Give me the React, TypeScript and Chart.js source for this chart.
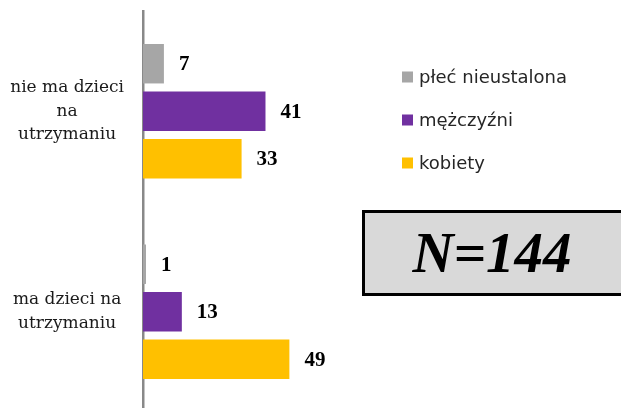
import React, { useEffect, useRef } from "react";
import { Chart, registerables } from "chart.js";

Chart.register(...registerables);

const categories = [["nie ma dzieci", "na", "utrzymaniu"], ["ma dzieci na", "utrzymaniu"]];
const seriesLabels = ["płeć nieustalona", "mężczyźni", "kobiety"];
const undetermined = [7, 1];
const men = [41, 13];
const women = [33, 49];
const seriesColors = ["#a6a6a6", "#7030a0", "#ffc000"];
const sampleLabel = "N=144";

const overlay = {
  id: "overlay",
  afterDatasetsDraw(chart: any) {
    const ctx = chart.ctx as CanvasRenderingContext2D;
    ctx.save();
    // value labels
    ctx.font = "bold 21px 'Liberation Serif'";
    ctx.fillStyle = "#000000";
    ctx.textBaseline = "middle";
    ctx.textAlign = "left";
    chart.data.datasets.forEach((ds: any, i: number) => {
      const meta = chart.getDatasetMeta(i);
      meta.data.forEach((bar: any, j: number) => {
        ctx.fillText(String(ds.data[j]), bar.x + 15, bar.y + 1);
      });
    });
    // legend
    ctx.font = "18px 'DejaVu Sans'";
    const legendY = [77, 120, 163];
    chart.data.datasets.forEach((ds: any, i: number) => {
      const y = legendY[i];
      ctx.fillStyle = ds.backgroundColor;
      ctx.fillRect(402, y - 5.5, 11, 11);
      ctx.fillStyle = "#262626";
      ctx.fillText(ds.label, 419, y + 1);
    });
    // N box
    ctx.fillStyle = "#d9d9d9";
    ctx.fillRect(363.5, 211.5, 300, 83);
    ctx.strokeStyle = "#000000";
    ctx.lineWidth = 3;
    ctx.strokeRect(363.5, 211.5, 300, 83);
    ctx.fillStyle = "#000000";
    ctx.font = "italic bold 57px 'Liberation Serif'";
    ctx.textAlign = "center";
    ctx.textBaseline = "alphabetic";
    ctx.fillText(sampleLabel, 492, 272);
    ctx.restore();
  },
};

export default function App() {
  const ref = useRef<HTMLCanvasElement | null>(null);
  useEffect(() => {
    if (!ref.current) return;
    const chart = new Chart(ref.current, {
      type: "bar",
      data: {
        labels: categories as any,
        datasets: [
          { label: seriesLabels[0], data: undetermined, backgroundColor: seriesColors[0] },
          { label: seriesLabels[1], data: men, backgroundColor: seriesColors[1] },
          { label: seriesLabels[2], data: women, backgroundColor: seriesColors[2] },
        ],
      },
      options: {
        indexAxis: "y",
        responsive: false,
        animation: false,
        layout: { padding: { top: 11, left: 0, right: 0, bottom: 0 } },
        datasets: { bar: { categoryPercentage: 0.711, barPercentage: 0.83, borderWidth: 0 } },
        plugins: { legend: { display: false }, tooltip: { enabled: false } },
        scales: {
          x: { display: false, min: 0, max: 160 },
          y: {
            grid: { display: false, drawTicks: false },
            border: { display: true, color: "#898989", width: 2.5 },
            ticks: {
              font: { family: "DejaVu Serif", size: 17, lineHeight: 1.4 },
              color: "#1a1a1a",
              crossAlign: "center",
              padding: 19,
            },
            afterFit: (s: any) => {
              s.width = 143;
              s.paddingTop = 0;
              s.paddingBottom = 0;
            },
          },
        },
      } as any,
      plugins: [overlay],
    });
    return () => chart.destroy();
  }, []);
  return (
    <div style={{ position: "fixed", left: 0, top: 0, width: 621, height: 408, overflow: "hidden", background: "#ffffff" }}>
      <canvas ref={ref} width={621} height={412} style={{ display: "block" }} />
    </div>
  );
}
